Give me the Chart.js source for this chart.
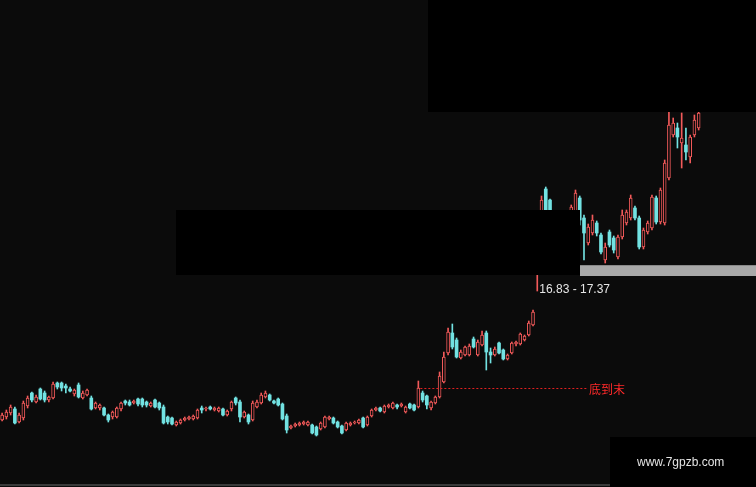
<!DOCTYPE html>
<html>
<head>
<meta charset="utf-8">
<script src="https://cdn.jsdelivr.net/npm/chart.js@4.4.0/dist/chart.umd.min.js"></script>
<style>
  html, body { margin: 0; padding: 0; background: #0b0b0b; }
  #wrap { width: 756px; height: 487px; }
</style>
</head>
<body>
<div id="wrap"><canvas id="kline" width="756" height="487"></canvas></div>
<script>
// daily candles, prices
const openPrices = [
  9.63, 9.78, 9.98, 10.18, 9.53, 9.73, 10.33, 10.98, 10.53, 11.18,
  10.98, 10.63, 10.73, 11.48, 11.48, 11.33, 11.18, 10.93, 11.38, 10.73,
  10.88, 10.73, 10.23, 10.23, 10.23, 9.88, 9.78, 9.78, 10.18, 10.58,
  10.53, 10.48, 10.68, 10.68, 10.53, 10.33, 10.63, 10.48, 10.28, 9.78,
  9.73, 9.38, 9.48, 9.63, 9.68, 9.68, 9.73, 10.23, 10.18, 10.28,
  10.13, 10.08, 10.18, 9.88, 10.18, 10.73, 10.53, 9.78, 9.88, 9.63,
  10.28, 10.48, 10.78, 10.88, 10.58, 10.68, 10.43, 9.83, 9.23, 9.33,
  9.38, 9.43, 9.38, 9.38, 9.28, 9.18, 9.28, 9.68, 9.73, 9.53,
  9.33, 9.13, 9.38, 9.48, 9.48, 9.73, 9.38, 9.83, 10.13, 10.23,
  10.03, 10.28, 10.23, 10.38, 10.33, 10.03, 10.43, 10.38, 10.28, 10.98,
  10.83, 10.23, 10.48, 10.78, 11.53, 12.98, 13.98, 13.63, 12.73, 12.88,
  12.88, 13.68, 12.88, 13.38, 13.98, 13.03, 12.88, 13.48, 13.13, 12.68,
  12.98, 13.43, 13.43, 13.63, 13.88, 14.38, 17.03, 18.63, 21.18, 20.63,
  19.53, 18.83, 19.23, 18.43, 19.88, 19.88, 20.73, 19.73, 18.48, 18.98,
  19.48, 18.88, 17.63, 19.03, 18.73, 17.78, 18.78, 19.48, 19.73, 20.23,
  19.73, 18.28, 19.03, 19.23, 20.73, 19.53, 19.48, 21.73, 23.88, 24.23,
  23.48, 23.38, 22.78, 23.88, 24.23
];
const highPrices = [
  9.98, 10.13, 10.38, 10.28, 9.98, 10.58, 10.83, 11.03, 10.88, 11.23,
  11.08, 10.83, 11.53, 11.53, 11.53, 11.43, 11.28, 11.18, 11.48, 11.08,
  11.18, 10.83, 10.53, 10.43, 10.28, 9.93, 10.08, 10.28, 10.53, 10.63,
  10.63, 10.63, 10.73, 10.73, 10.58, 10.53, 10.68, 10.53, 10.38, 9.83,
  9.78, 9.58, 9.68, 9.78, 9.83, 9.88, 10.18, 10.33, 10.28, 10.33,
  10.28, 10.28, 10.23, 10.13, 10.58, 10.78, 10.63, 10.08, 9.93, 10.58,
  10.63, 10.98, 11.08, 10.93, 10.63, 10.73, 10.48, 9.93, 9.38, 9.48,
  9.53, 9.58, 9.58, 9.43, 9.33, 9.53, 9.83, 9.83, 9.78, 9.58,
  9.38, 9.53, 9.53, 9.58, 9.68, 9.78, 9.83, 10.18, 10.28, 10.28,
  10.38, 10.43, 10.53, 10.43, 10.48, 10.33, 10.48, 10.43, 11.58, 11.08,
  10.88, 10.58, 10.83, 12.03, 13.03, 14.23, 14.43, 13.73, 13.13, 13.33,
  13.43, 13.78, 13.63, 14.08, 14.08, 13.23, 13.28, 13.53, 13.18, 12.93,
  13.53, 13.58, 13.98, 13.88, 14.58, 15.13, 18.88, 20.83, 21.28, 20.68,
  19.73, 19.58, 19.43, 19.33, 20.38, 21.13, 20.83, 19.88, 19.43, 19.88,
  19.58, 18.98, 18.48, 19.13, 18.83, 18.88, 20.13, 20.13, 20.88, 20.33,
  19.83, 19.23, 19.58, 20.88, 20.83, 21.23, 22.63, 25.13, 24.73, 24.48,
  24.98, 24.23, 23.88, 24.88, 25.38
];
const lowPrices = [
  9.58, 9.68, 9.88, 9.43, 9.48, 9.63, 10.23, 10.53, 10.48, 10.63,
  10.53, 10.53, 10.68, 11.18, 11.08, 10.98, 11.03, 10.83, 10.73, 10.68,
  10.83, 10.13, 10.18, 10.13, 9.83, 9.53, 9.68, 9.73, 10.08, 10.38,
  10.33, 10.43, 10.33, 10.28, 10.28, 10.28, 10.23, 10.13, 9.43, 9.43,
  9.38, 9.33, 9.43, 9.58, 9.63, 9.63, 9.68, 9.98, 10.08, 10.13,
  10.08, 10.03, 9.83, 9.83, 10.08, 10.38, 9.53, 9.73, 9.43, 9.58,
  10.23, 10.43, 10.73, 10.58, 10.43, 10.33, 9.63, 8.98, 9.18, 9.28,
  9.33, 9.38, 9.33, 8.93, 8.83, 9.13, 9.23, 9.63, 9.43, 9.23,
  8.93, 9.08, 9.33, 9.43, 9.43, 9.23, 9.33, 9.78, 10.08, 10.03,
  9.98, 10.23, 10.18, 10.18, 10.28, 9.98, 10.18, 10.08, 10.23, 10.53,
  10.18, 10.13, 10.43, 10.73, 11.48, 12.88, 13.18, 12.73, 12.68, 12.83,
  12.83, 13.23, 12.83, 13.33, 12.13, 12.48, 12.83, 12.93, 12.63, 12.63,
  12.93, 13.33, 13.38, 13.58, 13.83, 14.33, 16.08, 18.38, 19.63, 19.03,
  18.53, 18.63, 18.13, 18.23, 19.23, 19.63, 19.38, 17.63, 18.38, 18.88,
  18.83, 17.93, 17.48, 18.28, 17.98, 17.68, 18.68, 19.38, 19.63, 19.63,
  18.18, 18.18, 18.93, 19.13, 19.43, 19.43, 19.38, 21.63, 23.78, 23.23,
  22.23, 22.63, 22.48, 23.78, 24.13
];
const closePrices = [
  9.88, 10.03, 10.28, 9.48, 9.88, 10.48, 10.73, 10.63, 10.78, 10.68,
  10.63, 10.78, 11.43, 11.28, 11.23, 11.23, 11.08, 11.13, 10.78, 10.98,
  11.13, 10.18, 10.48, 10.38, 9.88, 9.63, 10.03, 10.23, 10.48, 10.48,
  10.38, 10.58, 10.43, 10.38, 10.38, 10.48, 10.28, 10.23, 9.48, 9.53,
  9.43, 9.53, 9.63, 9.73, 9.78, 9.83, 10.13, 10.13, 10.23, 10.18,
  10.23, 10.23, 9.88, 10.08, 10.53, 10.48, 9.78, 10.03, 9.53, 10.48,
  10.53, 10.88, 10.98, 10.63, 10.48, 10.38, 9.68, 9.13, 9.33, 9.43,
  9.48, 9.53, 9.53, 8.98, 8.88, 9.48, 9.78, 9.78, 9.48, 9.28,
  8.98, 9.48, 9.48, 9.53, 9.63, 9.28, 9.78, 10.13, 10.23, 10.08,
  10.33, 10.38, 10.48, 10.28, 10.43, 10.28, 10.23, 10.13, 11.23, 10.63,
  10.38, 10.53, 10.78, 11.83, 12.78, 14.03, 13.28, 12.78, 13.03, 13.28,
  13.33, 13.28, 13.53, 13.88, 13.03, 12.88, 13.18, 12.98, 12.68, 12.88,
  13.48, 13.53, 13.93, 13.83, 14.48, 15.03, 18.38, 20.63, 19.88, 19.38,
  18.73, 19.38, 18.38, 19.13, 20.28, 20.98, 19.63, 18.98, 19.28, 19.63,
  18.98, 18.03, 18.28, 18.38, 18.13, 18.78, 19.88, 20.03, 20.73, 19.73,
  18.28, 19.13, 19.48, 20.78, 19.53, 21.13, 22.48, 24.38, 24.48, 23.78,
  23.73, 23.03, 23.78, 24.63, 24.98
];

// 178 slots on the axis, the last ones are still empty
const categories = Array.from({ length: 178 }, (_, i) => String(i + 1));

const priceMin = 6.28;
const priceMax = 30.63;
const rangeLow = 16.83;     // grey band and its label
const rangeHigh = 17.37;
const bottomLevel = 11.23;  // red dashed line
const bottomFrom = 98;
const bottomTo = 137;
const bottomText = "底到末";
const siteText = "www.7gpzb.com";

const RED = "#f25a5a";
const CYAN = "#72e2e2";
const BG = "#0b0b0b";

const isUp = openPrices.map((o, i) => closePrices[i] >= o);

const overlay = {
    id: "overlay",
    beforeDraw(chart) {
        const ctx = chart.ctx;
        ctx.save();
        ctx.fillStyle = BG;
        ctx.fillRect(0, 0, chart.width, chart.height);
        ctx.restore();
    },
    afterDatasetsDraw(chart) {
        const ctx = chart.ctx;
        const xs = chart.scales.x;
        const ys = chart.scales.y;
        ctx.save();

        // dashed support line + label
        const yb = Math.round(ys.getPixelForValue(bottomLevel)) + 0.5;
        const x1 = xs.getPixelForValue(bottomFrom) + 2;
        const x2 = xs.getPixelForValue(bottomTo) + 4;
        ctx.strokeStyle = "#e02020";
        ctx.lineWidth = 1;
        ctx.setLineDash([2, 2]);
        ctx.beginPath();
        ctx.moveTo(x1, yb);
        ctx.lineTo(x2, yb);
        ctx.stroke();
        ctx.setLineDash([]);
        ctx.fillStyle = "#ff2a2a";
        ctx.font = "12px 'Noto Sans CJK SC'";
        ctx.textBaseline = "middle";
        ctx.fillText(bottomText, x2 + 1, yb + 1);

        // blacked-out panels
        ctx.fillStyle = "#000";
        ctx.fillRect(428, 0, 328, 112);
        ctx.fillRect(176, 210, 404, 65);

        // grey band for the price range
        const yTop = ys.getPixelForValue(rangeHigh);
        const yBot = ys.getPixelForValue(rangeLow);
        ctx.fillStyle = "#a9a9a9";
        ctx.fillRect(580, yTop, 176, yBot - yTop);

        ctx.fillStyle = "#e6e6e6";
        ctx.font = "12px 'Liberation Sans', Arial";
        ctx.textBaseline = "alphabetic";
        ctx.fillText(rangeLow.toFixed(2) + " - " + rangeHigh.toFixed(2),
            xs.getPixelForValue(126) + 2, yBot + 17);

        // bottom strip and site mark
        ctx.fillStyle = "#3a3a3a";
        ctx.fillRect(0, 484, 610, 2);
        ctx.fillStyle = "#000";
        ctx.fillRect(610, 437, 146, 50);
        ctx.fillStyle = "#e4e4e4";
        ctx.font = "12px 'Liberation Sans', Arial";
        ctx.textBaseline = "middle";
        ctx.fillText(siteText, 637, 463);

        ctx.restore();
    }
};

new Chart(document.getElementById("kline").getContext("2d"), {
    type: "bar",
    data: {
        labels: categories,
        datasets: [
            {
                label: "body",
                data: openPrices.map((o, i) => [Math.min(o, closePrices[i]), Math.max(o, closePrices[i])]),
                backgroundColor: isUp.map(u => u ? BG : CYAN),
                borderColor: isUp.map(u => u ? RED : CYAN),
                borderWidth: isUp.map(u => u ? 1 : 0),
                borderSkipped: false,
                barThickness: 3,
                minBarLength: 1,
                grouped: false,
                order: 1
            },
            {
                label: "wick",
                data: lowPrices.map((l, i) => [l, highPrices[i]]),
                backgroundColor: isUp.map(u => u ? RED : CYAN),
                barThickness: 1,
                grouped: false,
                order: 2
            }
        ]
    },
    options: {
        responsive: false,
        animation: false,
        devicePixelRatio: 1,
        layout: { padding: 0 },
        plugins: {
            legend: { display: false },
            tooltip: { enabled: false }
        },
        scales: {
            x: { display: false, offset: true },
            y: { display: false, min: priceMin, max: priceMax }
        }
    },
    plugins: [overlay]
});
</script>
</body>
</html>
